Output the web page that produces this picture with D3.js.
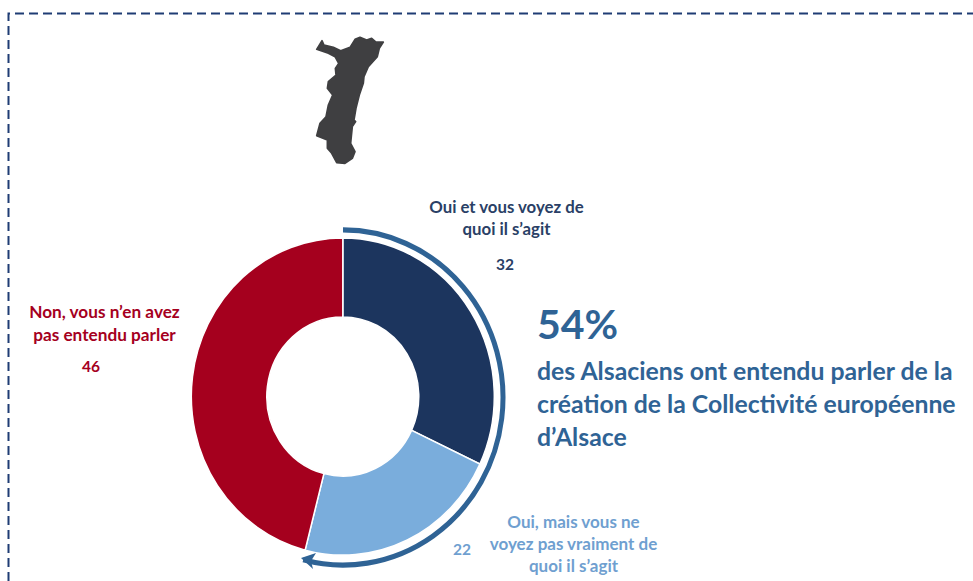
<!DOCTYPE html>
<html><head><meta charset="utf-8">
<script src="https://cdn.jsdelivr.net/npm/d3@7"></script>
<style>html,body{margin:0;padding:0;background:#fff}svg{display:block}text{font-family:Lato,"Open Sans",sans-serif}</style>
</head><body><svg id="c" width="973" height="581"></svg>
<script>
const categories = ["Oui et vous voyez de quoi il s’agit","Oui, mais vous ne voyez pas vraiment de quoi il s’agit","Non, vous n’en avez pas entendu parler"];
const values = [32,22,46];
const colours = ["#1c355e","#7aaddc","#a5001e"];
const awareTotal = 54;
const headline = ["des Alsaciens ont entendu parler de la","création de la Collectivité européenne","d’Alsace"];
const mapOutline = [[50,88],[66,62],[72,75],[100,82],[122,92],[150,82],[165,58],[180,52],[200,60],[215,55],[228,66],[250,66],[238,85],[232,110],[205,140],[192,170],[190,190],[178,225],[168,265],[162,300],[167,305],[157,320],[152,370],[165,395],[157,415],[135,430],[110,428],[95,400],[82,385],[82,360],[50,347],[60,310],[78,290],[85,255],[98,225],[82,205],[85,185],[108,165],[106,145],[116,130],[105,110],[85,100]];

const svg = d3.select("#c");
// dashed frame
svg.append("path").attr("d","M8.5,581V13.5H973").attr("fill","none")
  .attr("stroke","#1f3c74").attr("stroke-width",2).attr("stroke-dasharray","9 5");

// map
const mx = d3.scaleLinear().domain([0,300]).range([300,400]);
const my = d3.scaleLinear().domain([0,450]).range([20,170]);
svg.append("path").datum(mapOutline)
  .attr("d",d3.line().x(d=>mx(d[0])).y(d=>my(d[1])).curve(d3.curveLinearClosed))
  .attr("fill","#3f3f41").attr("stroke","#3f3f41").attr("stroke-width",1.6).attr("stroke-linejoin","round");

// donut (source is slightly stretched vertically)
const g = svg.append("g").attr("transform","translate(342.8,396.5) scale(1,1.047)");
const pie = d3.pie().sort(null)(values);
const arc = d3.arc().innerRadius(76).outerRadius(151.5);
g.selectAll("path.s").data(pie).join("path").attr("class","s")
  .attr("d",arc).attr("fill",(d,i)=>colours[i]).attr("stroke","#fff").attr("stroke-width",1.5);

// bracket arc with arrow
const pct = d3.scaleLinear().domain([0,100]).range([0,2*Math.PI]);
const ring = d3.arc().innerRadius(160).outerRadius(160)
  .startAngle(pct(0)).endAngle(pct(awareTotal));
svg.append("path").attr("transform","translate(343,397.5) scale(1,1.047)")
  .attr("d",ring()).attr("fill","none").attr("stroke","#2f6395").attr("stroke-width",5);
svg.append("path").attr("d","M301,558 L316,553 L311,561 L313,569 Z").attr("fill","#2f6395");

// labels
function lines(arr,x,y,dy,fill,size,anchor,weight){
  svg.append("g").selectAll("text").data(arr).join("text")
    .attr("x",x).attr("y",(d,i)=>y+i*dy).attr("fill",fill).attr("font-size",size)
    .attr("text-anchor",anchor).attr("font-weight",weight).text(d=>d);
}
lines(["Oui et vous voyez de","quoi il s’agit"],506.5,213,22,"#2a3f66",16.8,"middle",700);
lines([values[0]],505,270,0,"#2a3f66",15.5,"middle",700);
lines(["Oui, mais vous ne","voyez pas vraiment de","quoi il s’agit"],573.5,528,22,"#6f9fd0",17,"middle",700);
lines([values[1]],462,555,0,"#6f9fd0",15.5,"middle",700);
lines(["Non, vous n’en avez","pas entendu parler"],104.5,318,23,"#a5001e",17.2,"middle",700);
lines([values[2]],91,372,0,"#a5001e",15.5,"middle",700);
lines([awareTotal+"%"],537,339,0,"#2f6395",41,"start",700);
lines(headline,537,380,33,"#2f6395",24.8,"start",700);
</script></body></html>
